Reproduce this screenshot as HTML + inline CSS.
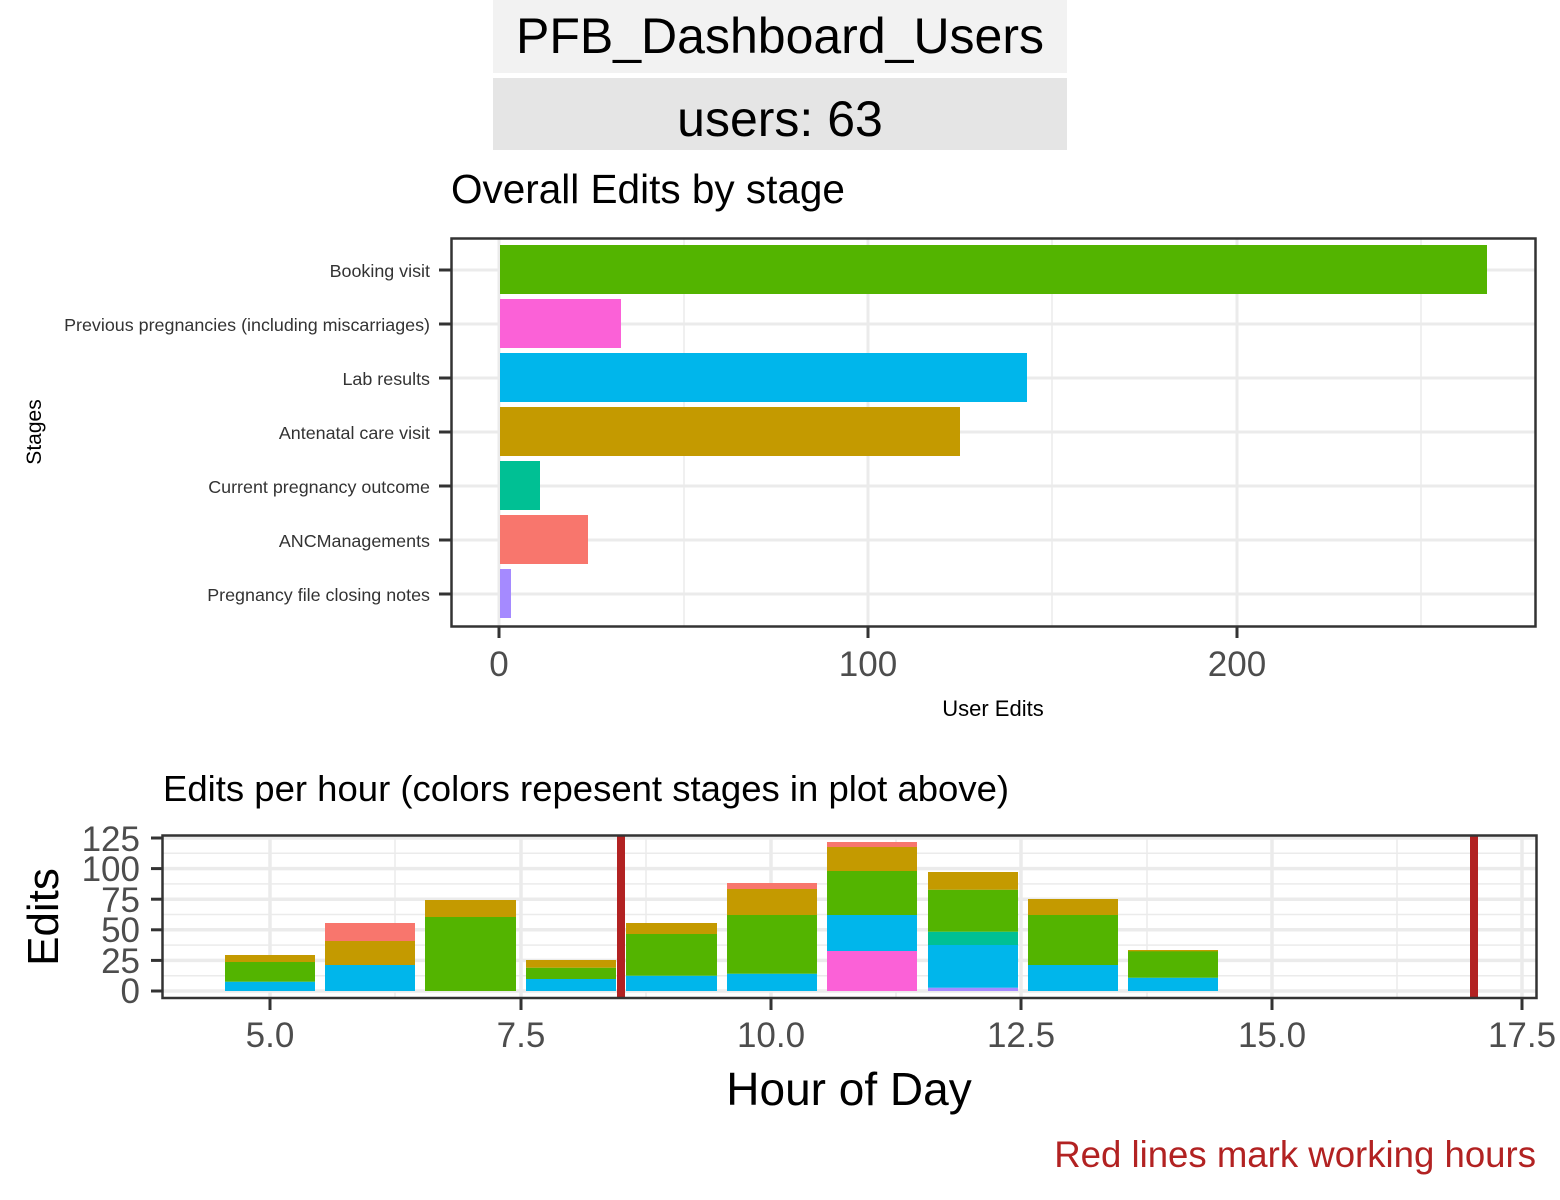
<!DOCTYPE html>
<html><head><meta charset="utf-8"><style>html,body{margin:0;padding:0;background:#fff}svg{display:block}</style></head>
<body>
<svg width="1560" height="1200" xmlns="http://www.w3.org/2000/svg" font-family="Liberation Sans, Arial, sans-serif">
<rect x="0" y="0" width="1560" height="1200" fill="#fff"/>
<!-- header -->
<rect x="493" y="0" width="574" height="73" fill="#f2f2f2"/>
<text x="780" y="53" font-size="50" text-anchor="middle" fill="#000">PFB_Dashboard_Users</text>
<rect x="493" y="78" width="574" height="72" fill="#e5e5e5"/>
<text x="780" y="136" font-size="50" text-anchor="middle" fill="#000">users: 63</text>
<text x="451" y="203" font-size="40.5" fill="#000">Overall Edits by stage</text>

<!-- top chart -->
<g stroke="#ebebeb">
<line x1="684" y1="238" x2="684" y2="627" stroke-width="1.5"/>
<line x1="1052" y1="238" x2="1052" y2="627" stroke-width="1.5"/>
<line x1="1421" y1="238" x2="1421" y2="627" stroke-width="1.5"/>
<line x1="499" y1="238" x2="499" y2="627" stroke-width="3"/>
<line x1="868" y1="238" x2="868" y2="627" stroke-width="3"/>
<line x1="1237" y1="238" x2="1237" y2="627" stroke-width="3"/>
<line x1="451" y1="270" x2="1536" y2="270" stroke-width="3"/>
<line x1="451" y1="324" x2="1536" y2="324" stroke-width="3"/>
<line x1="451" y1="378" x2="1536" y2="378" stroke-width="3"/>
<line x1="451" y1="432" x2="1536" y2="432" stroke-width="3"/>
<line x1="451" y1="486" x2="1536" y2="486" stroke-width="3"/>
<line x1="451" y1="540" x2="1536" y2="540" stroke-width="3"/>
<line x1="451" y1="594" x2="1536" y2="594" stroke-width="3"/>
</g>
<rect x="500" y="245" width="987" height="49" fill="#53b400"/>
<rect x="500" y="299" width="121" height="49" fill="#fb61d7"/>
<rect x="500" y="353" width="527" height="49" fill="#00b6eb"/>
<rect x="500" y="407" width="460" height="49" fill="#c49a00"/>
<rect x="500" y="461" width="40" height="49" fill="#00c094"/>
<rect x="500" y="515" width="88" height="49" fill="#f8766d"/>
<rect x="500" y="569" width="11" height="49" fill="#a58aff"/>
<rect x="451.5" y="238.5" width="1084" height="388" fill="none" stroke="#333" stroke-width="2.5"/>
<g stroke="#333" stroke-width="3">
<line x1="439" y1="270" x2="451" y2="270"/><line x1="439" y1="324" x2="451" y2="324"/>
<line x1="439" y1="378" x2="451" y2="378"/><line x1="439" y1="432" x2="451" y2="432"/>
<line x1="439" y1="486" x2="451" y2="486"/><line x1="439" y1="540" x2="451" y2="540"/>
<line x1="439" y1="594" x2="451" y2="594"/>
<line x1="499" y1="627" x2="499" y2="638"/><line x1="868" y1="627" x2="868" y2="638"/><line x1="1237" y1="627" x2="1237" y2="638"/>
</g>
<g font-size="17.9" fill="#333" text-anchor="end">
<text x="430" y="277">Booking visit</text>
<text x="430" y="331">Previous pregnancies (including miscarriages)</text>
<text x="430" y="385">Lab results</text>
<text x="430" y="439">Antenatal care visit</text>
<text x="430" y="493">Current pregnancy outcome</text>
<text x="430" y="547">ANCManagements</text>
<text x="430" y="601">Pregnancy file closing notes</text>
</g>
<g font-size="35" fill="#4d4d4d" text-anchor="middle">
<text x="499" y="676">0</text><text x="868" y="676">100</text><text x="1237" y="676">200</text>
</g>
<text x="993" y="716" font-size="22" text-anchor="middle" fill="#000">User Edits</text>
<text transform="translate(41,432) rotate(-90)" font-size="21" text-anchor="middle" fill="#000">Stages</text>

<!-- bottom chart -->
<text x="163" y="801" font-size="36.5" fill="#000">Edits per hour (colors repesent stages in plot above)</text>
<g stroke="#ebebeb">
<g stroke-width="1.5">
<line x1="162" y1="975.7" x2="1536" y2="975.7"/><line x1="162" y1="945.1" x2="1536" y2="945.1"/>
<line x1="162" y1="914.5" x2="1536" y2="914.5"/><line x1="162" y1="883.9" x2="1536" y2="883.9"/>
<line x1="162" y1="853.3" x2="1536" y2="853.3"/>
<line x1="395" y1="835" x2="395" y2="998"/><line x1="646" y1="835" x2="646" y2="998"/>
<line x1="896" y1="835" x2="896" y2="998"/><line x1="1147" y1="835" x2="1147" y2="998"/>
<line x1="1397" y1="835" x2="1397" y2="998"/>
</g>
<g stroke-width="3.5">
<line x1="162" y1="991" x2="1536" y2="991"/><line x1="162" y1="960.4" x2="1536" y2="960.4"/>
<line x1="162" y1="929.8" x2="1536" y2="929.8"/><line x1="162" y1="899.2" x2="1536" y2="899.2"/>
<line x1="162" y1="868.6" x2="1536" y2="868.6"/><line x1="162" y1="838" x2="1536" y2="838"/>
<line x1="270" y1="835" x2="270" y2="998"/><line x1="521" y1="835" x2="521" y2="998"/>
<line x1="771" y1="835" x2="771" y2="998"/><line x1="1021" y1="835" x2="1021" y2="998"/>
<line x1="1272" y1="835" x2="1272" y2="998"/><line x1="1522" y1="835" x2="1522" y2="998"/>
</g>
</g>
<rect x="225" y="981.7" width="90" height="9.3" fill="#00b6eb"/>
<rect x="225" y="962" width="90" height="19.7" fill="#53b400"/>
<rect x="225" y="955" width="90" height="7" fill="#c49a00"/>
<rect x="325" y="965" width="90" height="26" fill="#00b6eb"/>
<rect x="325" y="941" width="90" height="24" fill="#c49a00"/>
<rect x="325" y="923" width="90" height="18" fill="#f8766d"/>
<rect x="425" y="917" width="91" height="74" fill="#53b400"/>
<rect x="425" y="900" width="91" height="17" fill="#c49a00"/>
<rect x="526" y="979" width="90" height="12" fill="#00b6eb"/>
<rect x="526" y="967.7" width="90" height="11.3" fill="#53b400"/>
<rect x="526" y="960" width="90" height="7.7" fill="#c49a00"/>
<rect x="626" y="975.7" width="91" height="15.3" fill="#00b6eb"/>
<rect x="626" y="934" width="91" height="41.7" fill="#53b400"/>
<rect x="626" y="923" width="91" height="11" fill="#c49a00"/>
<rect x="727" y="973.7" width="90" height="17.3" fill="#00b6eb"/>
<rect x="727" y="915" width="90" height="58.7" fill="#53b400"/>
<rect x="727" y="889" width="90" height="26" fill="#c49a00"/>
<rect x="727" y="883" width="90" height="6" fill="#f8766d"/>
<rect x="827" y="951" width="90" height="40" fill="#fb61d7"/>
<rect x="827" y="915" width="90" height="36" fill="#00b6eb"/>
<rect x="827" y="871" width="90" height="44" fill="#53b400"/>
<rect x="827" y="847" width="90" height="24" fill="#c49a00"/>
<rect x="827" y="842" width="90" height="5" fill="#f8766d"/>
<rect x="928" y="987.7" width="90" height="3.3" fill="#a58aff"/>
<rect x="928" y="945" width="90" height="42.7" fill="#00b6eb"/>
<rect x="928" y="931.7" width="90" height="13.3" fill="#00c094"/>
<rect x="928" y="889.7" width="90" height="42" fill="#53b400"/>
<rect x="928" y="872" width="90" height="17.7" fill="#c49a00"/>
<rect x="1028" y="965" width="90" height="26" fill="#00b6eb"/>
<rect x="1028" y="915" width="90" height="50" fill="#53b400"/>
<rect x="1028" y="899" width="90" height="16" fill="#c49a00"/>
<rect x="1128" y="977.7" width="90" height="13.3" fill="#00b6eb"/>
<rect x="1128" y="951" width="90" height="26.7" fill="#53b400"/>
<rect x="1128" y="950" width="90" height="1.3" fill="#c49a00"/>
<rect x="617" y="835" width="8" height="163" fill="#b22222"/>
<rect x="1470" y="835" width="8" height="163" fill="#b22222"/>
<rect x="162.5" y="835.5" width="1374" height="162.5" fill="none" stroke="#333" stroke-width="2.5"/>
<g stroke="#333" stroke-width="3">
<line x1="151" y1="991" x2="162" y2="991"/><line x1="151" y1="960.4" x2="162" y2="960.4"/>
<line x1="151" y1="929.8" x2="162" y2="929.8"/><line x1="151" y1="899.2" x2="162" y2="899.2"/>
<line x1="151" y1="868.6" x2="162" y2="868.6"/><line x1="151" y1="838" x2="162" y2="838"/>
<line x1="270" y1="998" x2="270" y2="1010"/><line x1="521" y1="998" x2="521" y2="1010"/>
<line x1="771" y1="998" x2="771" y2="1010"/><line x1="1021" y1="998" x2="1021" y2="1010"/>
<line x1="1272" y1="998" x2="1272" y2="1010"/><line x1="1522" y1="998" x2="1522" y2="1010"/>
</g>
<g font-size="35" fill="#4d4d4d" text-anchor="end">
<text x="140" y="1003">0</text><text x="140" y="973">25</text><text x="140" y="942">50</text>
<text x="140" y="912">75</text><text x="140" y="881">100</text><text x="140" y="851">125</text>
</g>
<g font-size="35" fill="#4d4d4d" text-anchor="middle">
<text x="270" y="1047">5.0</text><text x="521" y="1047">7.5</text><text x="771" y="1047">10.0</text>
<text x="1021" y="1047">12.5</text><text x="1272" y="1047">15.0</text><text x="1522" y="1047">17.5</text>
</g>
<text x="849" y="1105" font-size="46" text-anchor="middle" fill="#000">Hour of Day</text>
<text transform="translate(58,917) rotate(-90)" font-size="44" text-anchor="middle" fill="#000">Edits</text>
<text x="1536" y="1167" font-size="36.6" text-anchor="end" fill="#b22222">Red lines mark working hours</text>
</svg>
</body></html>
